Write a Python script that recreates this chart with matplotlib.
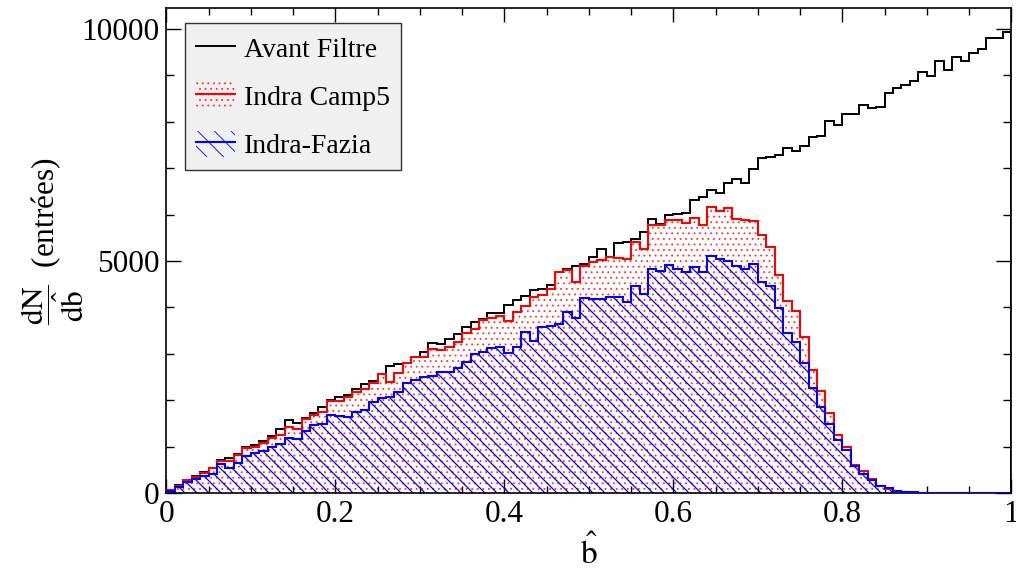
import numpy as np
import matplotlib
matplotlib.use('Agg')
import matplotlib.pyplot as plt
from matplotlib.patches import Patch
from matplotlib.lines import Line2D
from matplotlib.collections import LineCollection
from matplotlib.transforms import IdentityTransform

plt.rcParams['font.family'] = ['Liberation Serif', 'DejaVu Serif']
plt.rcParams['mathtext.fontset'] = 'stix'
plt.rcParams['hatch.linewidth'] = 0.6

# histogrammes 100 bins sur [0,1]
edges = np.linspace(0, 1, 101)

avant = [60, 165, 290, 370, 450, 535, 711, 747, 835, 985,
         1030, 1120, 1230, 1385, 1573, 1516, 1623, 1717, 1846, 1995,
         2065, 2120, 2238, 2355, 2420, 2572, 2730, 2776, 2800, 2920,
         3039, 3226, 3204, 3325, 3426, 3571, 3692, 3743, 3885, 3885,
         4060, 4150, 4245, 4365, 4405, 4490, 4769, 4825, 4895, 4925,
         5093, 5258, 5090, 5394, 5410, 5467, 5631, 5900, 5790, 5980,
         6020, 6041, 6320, 6375, 6530, 6472, 6687, 6767, 6674, 6982,
         7213, 7248, 7284, 7428, 7377, 7485, 7665, 7693, 8023, 7930,
         8160, 8167, 8361, 8304, 8325, 8613, 8721, 8792, 8879, 9066,
         8993, 9303, 9116, 9403, 9317, 9475, 9568, 9812, 9812, 9941]

camp5 = [55, 157, 275, 350, 438, 532, 700, 690, 819, 970,
         984, 1085, 1178, 1250, 1415, 1379, 1602, 1681, 1753, 1983,
         1989, 2076, 2183, 2241, 2363, 2558, 2399, 2579, 2795, 2920,
         2938, 3097, 3082, 3140, 3261, 3455, 3528, 3728, 3764, 3814,
         3713, 3907, 4020, 4225, 4270, 4400, 4770, 4806, 4550, 4900,
         4970, 5010, 5090, 5060, 5036, 5405, 5252, 5775, 5775, 5883,
         5883, 5812, 5920, 5775, 6157, 6084, 6135, 5905, 5883, 5869,
         5560, 5295, 4698, 4138, 3929, 3355, 2651, 2198, 1731, 1250,
         998, 603, 474, 302, 151, 86, 43, 15, 8, 4,
         2, 1, 0, 0, 0, 0, 0, 0, 0, 0]

fazia = [40, 122, 240, 294, 373, 409, 620, 540, 645, 790,
         860, 910, 998, 1050, 1195, 1170, 1330, 1465, 1485, 1670,
         1650, 1631, 1752, 1789, 1968, 2041, 2076, 2183, 2377, 2435,
         2493, 2521, 2614, 2614, 2700, 2830, 2995, 3045, 3118, 3153,
         3010, 3150, 3476, 3280, 3584, 3605, 3650, 3910, 3770, 4195,
         4181, 4180, 4217, 4217, 4109, 4468, 4288, 4827, 4780, 4913,
         4830, 4760, 4877, 4769, 5100, 5050, 5000, 4885, 4835, 4935,
         4554, 4468, 3980, 3455, 3261, 2808, 2269, 1850, 1490, 1142,
         927, 582, 403, 280, 157, 101, 50, 28, 15, 8,
         5, 3, 2, 1, 0, 0, 0, 0, 0, 0]

labels = ['Avant Filtre', 'Indra Camp5', 'Indra-Fazia']
xtick_vals = [0, 0.2, 0.4, 0.6, 0.8, 1.0]
xtick_labels = ['0', '0.2', '0.4', '0.6', '0.8', '1']
ytick_vals = [0, 5000, 10000]

fig = plt.figure(figsize=(10.16, 5.72), dpi=100)
ax = fig.add_axes([166.3 / 1016, 79 / 572, 845 / 1016, 485 / 572])

# remplissage pointille rouge
ax.stairs(camp5, edges, fill=True, facecolor='none', edgecolor='#ff3030',
          hatch='...', linewidth=0, zorder=1)

# remplissage hachure bleu (traits a 45 deg, clippes sur l'histo)
blue_patch = ax.stairs(fazia, edges, fill=True, facecolor='none',
                       edgecolor='none', linewidth=0, zorder=1)
segs = []
for c in np.arange(0, 1016 + 572 + 12, 12):
    segs.append([(0, c), (c, 0)])
lc = LineCollection(segs, colors='#0000ff', linewidths=0.9,
                    transform=IdentityTransform(), zorder=2)
ax.add_collection(lc, autolim=False)
lc.set_clip_path(blue_patch)

ax.stairs(avant, edges, color='black', linewidth=1.4, zorder=3)
ax.stairs(camp5, edges, color='#ff0000', linewidth=1.5, zorder=4)
ax.stairs(fazia, edges, color='#0000ff', linewidth=1.5, zorder=5)

ax.set_xlim(0, 1)
ax.set_ylim(0, 10450)
ax.set_xticks(xtick_vals)
ax.set_xticklabels(xtick_labels)
ax.set_xticks(np.arange(0, 1.0001, 0.05), minor=True)
ax.set_yticks(ytick_vals)
ax.set_yticks(np.arange(0, 10001, 1000), minor=True)
ax.tick_params(which='both', direction='in', top=True, right=True,
               labelsize=22.5, width=1)
ax.tick_params(axis='x', which='major', length=10, pad=5)
ax.tick_params(axis='x', which='minor', length=5)
ax.tick_params(axis='y', which='major', length=11, pad=5)
ax.tick_params(axis='y', which='minor', length=6)
for s in ax.spines.values():
    s.set_linewidth(1.2)

ax.set_xlabel(r'$\hat{\mathrm{b}}$', fontsize=24)
ax.xaxis.set_label_coords(0.5, -0.085)
ax.set_ylabel(r'$\dfrac{\mathrm{dN}}{\mathrm{d}\hat{\mathrm{b}}}$  (entrées)',
              fontsize=22.5)
ax.yaxis.set_label_coords(-0.095, 0.52)

handles = [Line2D([], [], color='black', linewidth=1.4),
           (Patch(facecolor='none', edgecolor='#ff3030', hatch='...', linewidth=0),
            Line2D([], [], color='#ff0000', linewidth=1.5)),
           (Patch(facecolor='none', edgecolor='#0000ff', hatch='\\\\', linewidth=0),
            Line2D([], [], color='#0000ff', linewidth=1.5))]
leg = ax.legend(handles, labels, loc='upper left',
                bbox_to_anchor=(0.0225, 0.969), borderaxespad=0,
                fontsize=20, frameon=True, fancybox=False,
                facecolor='#f0f0f0', edgecolor='#333333', framealpha=1,
                handlelength=1.4, handleheight=1.1, handletextpad=0.3,
                labelspacing=0.7, borderpad=0.4)
leg.get_frame().set_linewidth(1)
leg.set_zorder(10)

fig.savefig('out.png', dpi=100)
